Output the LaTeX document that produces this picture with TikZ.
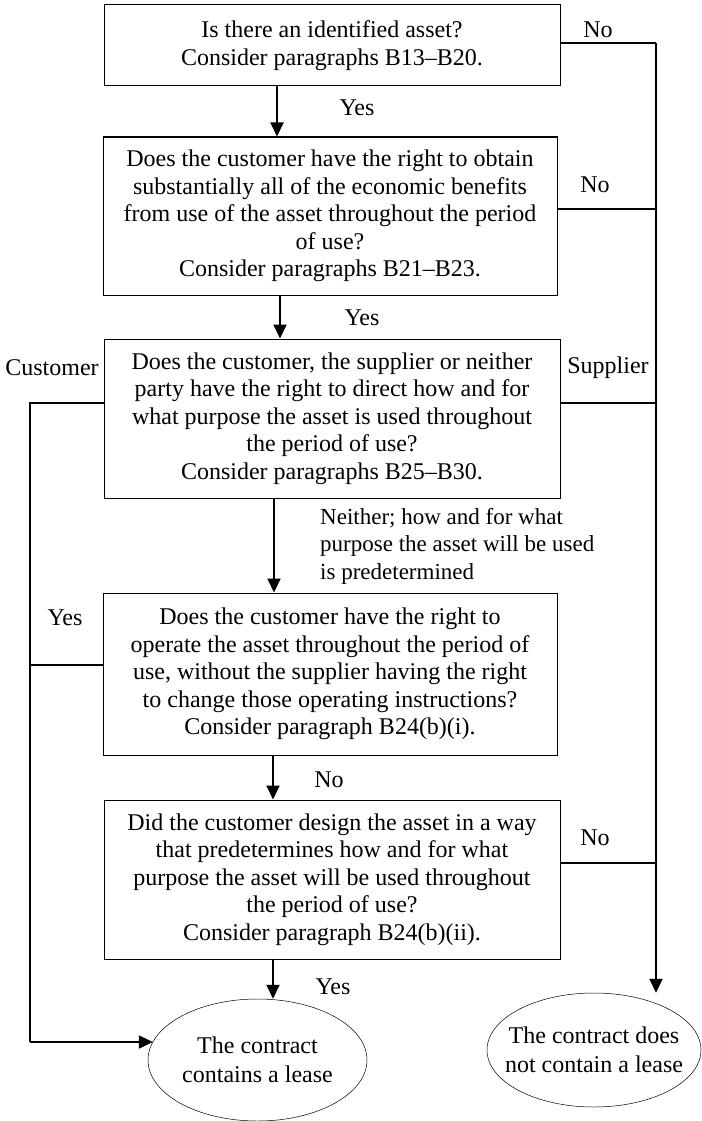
\documentclass[tikz,border=0pt]{standalone}
\usepackage{fontspec}
\setmainfont{Liberation Serif}
\usetikzlibrary{arrows.meta,shapes.geometric}
\begin{document}
\begin{tikzpicture}[x=1pt,y=-1pt,
  txt/.style={font=\fontsize{24}{27.5}\selectfont, inner sep=0pt, align=center},
  box/.style={txt, draw, line width=1pt, minimum width=456pt},
  oval/.style={ellipse, draw, line width=0.5pt, inner sep=0pt, align=center, font=\fontsize{24}{29}\selectfont},
  lbl/.style={font=\fontsize{24}{27.5}\selectfont, inner sep=0pt},
  conn/.style={line width=2pt},
  aconn/.style={line width=2pt, -{Triangle[length=14pt,width=13pt]}, shorten >=0pt}
]
\useasboundingbox[fill=white] (0,0) rectangle (701,1121);

% boxes
\node[box, minimum height=81pt] (b1) at (332,45.5)
  {Is there an identified asset?\\Consider paragraphs B13–B20.};
\node[box, minimum width=454pt, minimum height=158pt] (b2) at (330,216)
  {Does the customer have the right to obtain\\substantially all of the economic benefits\\from use of the asset throughout the period\\of use?\\Consider paragraphs B21–B23.};
\node[box, minimum height=159pt] (b3) at (332,418.5)
  {Does the customer, the supplier or neither\\party have the right to direct how and for\\what purpose the asset is used throughout\\the period of use?\\Consider paragraphs B25–B30.};
\node[box, minimum width=454pt, minimum height=162pt] (b4) at (330,674)
  {Does the customer have the right to\\operate the asset throughout the period of\\use, without the supplier having the right\\to change those operating instructions?\\Consider paragraph B24(b)(i).};
\node[box, minimum height=159pt] (b5) at (332,879.5)
  {Did the customer design the asset in a way\\that predetermines how and for what\\purpose the asset will be used throughout\\the period of use?\\Consider paragraph B24(b)(ii).};

% outcomes
\node[oval, minimum width=219pt, minimum height=122pt] (e1) at (257.5,1060)
  {The contract\\contains a lease};
\node[oval, minimum width=214pt, minimum height=114pt, inner xsep=-14pt] (e2) at (594,1050)
  {The contract does\\not contain a lease};

% labels
\node[lbl] (n1) at (598,30) {No};
\node[lbl] (y1) at (357,108) {Yes};
\node[lbl] (n2) at (595,185) {No};
\node[lbl] (y2) at (362,318) {Yes};
\node[lbl] (cu) at (52,368) {Customer};
\node[lbl] (su) at (608,368) {Supplier};
\node[lbl, align=left, anchor=west, font=\fontsize{23}{27.5}\selectfont] (ne) at (320,546)
  {Neither; how and for what\\purpose the asset will be used\\is predetermined};
\node[lbl] (y4) at (65,618) {Yes};
\node[lbl] (n4) at (329,780) {No};
\node[lbl] (n5) at (595,838) {No};
\node[lbl] (y5) at (333,987) {Yes};

% coordinates of the buses
\coordinate (r1) at (656,43);
\coordinate (r2) at (656,209);
\coordinate (r3) at (656,403);
\coordinate (r5) at (656,863);
\coordinate (l3) at (30,403);
\coordinate (l4) at (30,665);
\coordinate (lb) at (30,1042);
\coordinate (a1) at (277,0);
\coordinate (a2) at (280,0);
\coordinate (a3) at (274,0);
\coordinate (a4) at (273,0);
\coordinate (a5) at (273,0);

% main spine
\draw[aconn] (a1 |- b1.south) -- (a1 |- b2.north);
\draw[aconn] (a2 |- b2.south) -- (a2 |- b3.north);
\draw[aconn] (a3 |- b3.south) -- (a3 |- b4.north);
\draw[aconn] (a4 |- b4.south) -- (a4 |- b5.north);
\draw[aconn] (a5 |- b5.south) -- (a5 |- e1.north);

% right bus (No / Supplier)
\draw[conn] (b1.east |- r1) -- (r1);
\draw[aconn] (r1) -- (r1 |- e2.north);
\draw[conn] (b2.east |- r2) -- (r2);
\draw[conn] (b3.east |- r3) -- (r3);
\draw[conn] (b5.east |- r5) -- (r5);

% left bus (Customer / Yes)
\draw[conn] (b3.west |- l3) -- (l3) -- (lb);
\draw[conn] (b4.west |- l4) -- (l4);
\draw[aconn] (lb) -- (e1.170 |- lb);
\end{tikzpicture}
\end{document}
